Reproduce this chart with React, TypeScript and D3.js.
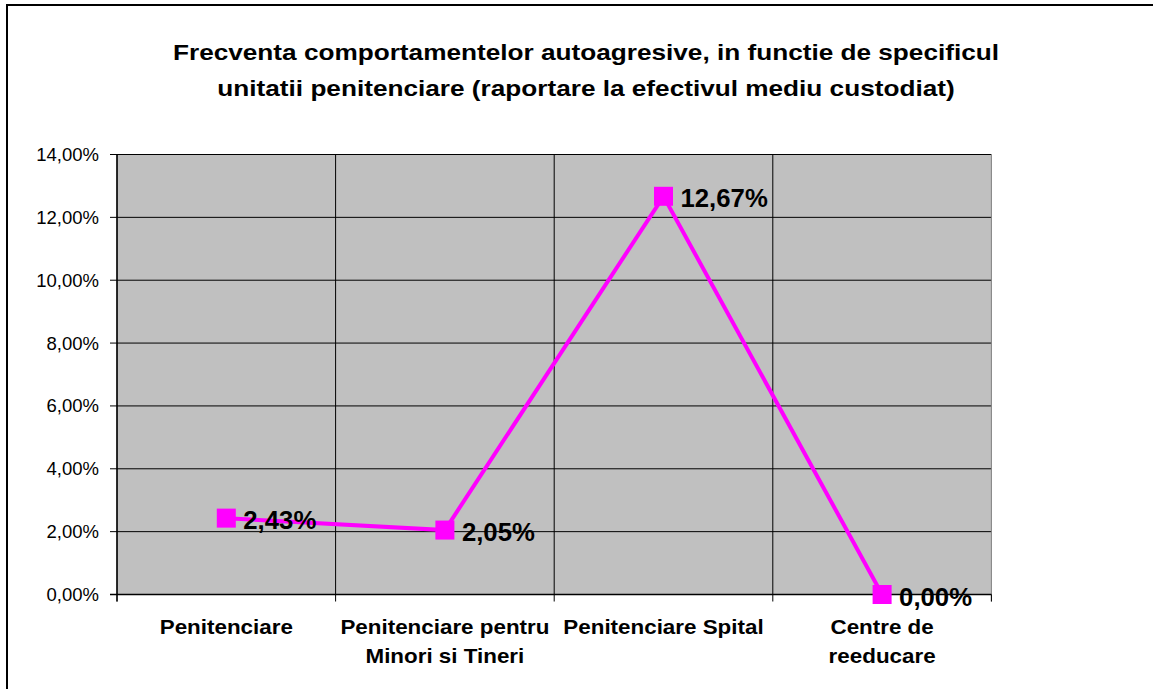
import React from "react";
import * as d3 from "d3";

const categories: string[][] = [
  ["Penitenciare"],
  ["Penitenciare pentru", "Minori si Tineri"],
  ["Penitenciare Spital"],
  ["Centre de", "reeducare"],
];
const values: number[] = [2.43, 2.05, 12.67, 0.0];
const yTicks: number[] = [0, 2, 4, 6, 8, 10, 12, 14];
const titleLines: string[] = [
  "Frecventa comportamentelor autoagresive, in functie de specificul",
  "unitatii penitenciare (raportare la efectivul mediu custodiat)",
];

const fmt = (v: number) => v.toFixed(2).replace(".", ",") + "%";

export default function App() {
  const W = 1153, H = 689;
  const left = 117, right = 991.4, top = 154.5, bottom = 594.5;
  const x = d3.scaleBand<number>().domain(d3.range(categories.length)).range([left, right]).padding(0);
  const y = d3.scaleLinear().domain([0, 14]).range([bottom, top]);
  const cx = (i: number) => (x(i) as number) + x.bandwidth() / 2;
  const line = d3.line<number>().x((_, i) => cx(i)).y((d) => y(d));
  const bounds = d3.range(categories.length + 1).map((i) => left + i * x.bandwidth());
  const ms = 19;
  const font = "Arial, 'Liberation Sans', sans-serif";

  return (
    <svg width={W} height={H} style={{ position: "absolute", left: 0, top: 0, background: "#fff" }} fontFamily={font}>
      <rect x={7} y={5} width={1200} height={800} fill="#fff" stroke="#000" strokeWidth={2} />
      {titleLines.map((t, i) => (
        <g key={i} transform={`translate(586,${60 + i * 36}) scale(1.19,1)`}>
          <text x={0} y={0} textAnchor="middle" fontSize={22} fontWeight="bold">{t}</text>
        </g>
      ))}
      <rect x={left} y={top} width={right - left} height={bottom - top} fill="#C0C0C0" />
      {yTicks.map((t) => (
        <line key={"g" + t} x1={left - 7} x2={right} y1={y(t)} y2={y(t)} stroke="#000" strokeWidth={1} />
      ))}
      {bounds.map((b, i) => (
        <line key={"v" + i} x1={b} x2={b} y1={top} y2={bottom + 7} stroke={i === bounds.length - 1 ? "#808080" : "#000"} strokeWidth={1} />
      ))}
      <line x1={right} x2={right} y1={bottom} y2={bottom + 7} stroke="#000" />
      <line x1={left} x2={left} y1={top} y2={bottom + 7} stroke="#000" strokeWidth={1.3} />
      <line x1={left - 7} x2={right} y1={bottom} y2={bottom} stroke="#000" strokeWidth={1.3} />
      {yTicks.map((t) => (
        <text key={"yl" + t} x={99} y={y(t) + 6.5} textAnchor="end" fontSize={18.5}>{fmt(t)}</text>
      ))}
      {categories.map((c, i) =>
        c.map((l, j) => (
          <g key={"xl" + i + j} transform={`translate(${cx(i)},${634 + j * 29}) scale(1.12,1)`}>
            <text x={0} y={0} textAnchor="middle" fontSize={20} fontWeight="bold">{l}</text>
          </g>
        ))
      )}
      <path d={line(values) || ""} fill="none" stroke="#FF00FF" strokeWidth={4} />
      {values.map((v, i) => (
        <rect key={"m" + i} x={cx(i) - ms / 2} y={y(v) - ms / 2} width={ms} height={ms} fill="#FF00FF" />
      ))}
      {values.map((v, i) => (
        <g key={"dl" + i} transform={`translate(${cx(i) + 17},${y(v) + 11}) scale(1.03,1)`}>
          <text x={0} y={0} fontSize={25} fontWeight="bold">{fmt(v)}</text>
        </g>
      ))}
    </svg>
  );
}
